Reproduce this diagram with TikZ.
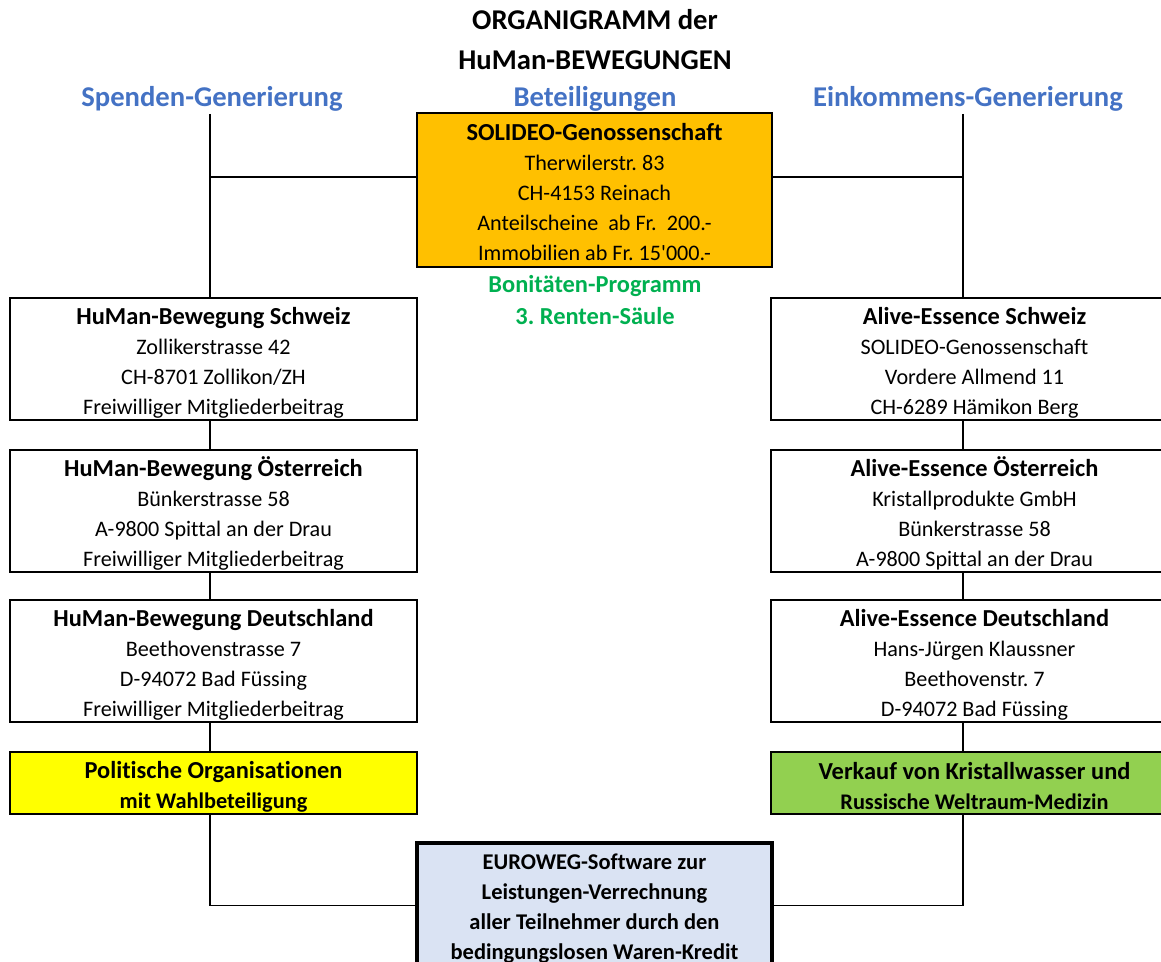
\documentclass[tikz,border=0pt]{standalone}
\usepackage{fontspec}
\setmainfont{Carlito}[Ligatures={TeXOff,NoCommon}]
\usepackage{xcolor}
\usepackage{tikz}
\frenchspacing
\definecolor{headblue}{HTML}{4472C4}
\definecolor{solorange}{HTML}{FFC000}
\definecolor{polyellow}{HTML}{FFFF00}
\definecolor{krisgreen}{HTML}{92D050}
\definecolor{eurolight}{HTML}{DAE3F3}
\definecolor{bonigreen}{HTML}{00B050}
\newcommand{\orgtitle}[2][14.3pt]{{\rule{0pt}{#1}\bfseries\fontsize{13.9}{17.1}\selectfont #2}}
\newcommand{\orgsub}[1]{{\bfseries\fontsize{12.7}{17.1}\selectfont #1}}

\begin{document}
\begin{tikzpicture}[x=0.02cm,y=-0.02cm,line width=1.1pt]
    \tikzstyle{org}=[rectangle,draw=black,line width=1.1pt,align=center,inner sep=0pt,
        minimum width=8.14cm,minimum height=2.44cm,font=\fontsize{12.6}{17.1}\selectfont]
    \tikzstyle{head}=[font=\bfseries\fontsize{16.3}{22.8}\selectfont,text=headblue]
    \tikzstyle{mid}=[org,minimum width=7.1cm]
    \clip (0,0) rectangle (1161,962);

    \node[font=\bfseries\fontsize{16.3}{22.8}\selectfont,align=center] (title) at (595,40) {ORGANIGRAMM der\\HuMan-BEWEGUNGEN};
    \node[head] (hleft) at (212,99) {Spenden-Generierung};
    \node[head] (hmid) at (595,99) {Beteiligungen};
    \node[head] (hright) at (968,99) {Einkommens-Generierung};

    % Beteiligungen
    \node[mid,fill=solorange,minimum height=3.08cm] (sol) at (594.5,190)
        {\orgtitle[12pt]{SOLIDEO-Genossenschaft}\\Therwilerstr. 83\\CH-4153 Reinach\\Anteilscheine~ ab Fr.~ 200.-\\Immobilien ab Fr. 15'000.-};
    \node[font=\bfseries\fontsize{13.9}{18.2}\selectfont,text=bonigreen,align=center] (boni) at (595,300)
        {Bonitäten-Programm\\3. Renten-Säule};

    % Spenden
    \node[org] (ch) at (213.5,359) {\orgtitle{HuMan-Bewegung Schweiz}\\Zollikerstrasse 42\\CH-8701 Zollikon/ZH\\Freiwilliger Mitgliederbeitrag};
    \node[org] (at) at (213.5,511) {\orgtitle{HuMan-Bewegung Österreich}\\Bünkerstrasse 58\\A-9800 Spittal an der Drau\\Freiwilliger Mitgliederbeitrag};
    \node[org] (de) at (213.5,661) {\orgtitle{HuMan-Bewegung Deutschland}\\Beethovenstrasse 7\\D-94072 Bad Füssing\\Freiwilliger Mitgliederbeitrag};
    \node[org,fill=polyellow,minimum height=1.24cm] (pol) at (213.5,783) {\orgtitle{Politische Organisationen}\\\orgsub{mit Wahlbeteiligung}};

    % Einkommen
    \node[org] (aech) at (974.5,359) {\orgtitle{Alive-Essence Schweiz}\\SOLIDEO-Genossenschaft\\Vordere Allmend 11\\CH-6289 Hämikon Berg};
    \node[org] (aeat) at (974.5,511) {\orgtitle{Alive-Essence Österreich}\\Kristallprodukte GmbH\\Bünkerstrasse 58\\A-9800 Spittal an der Drau};
    \node[org] (aede) at (974.5,661) {\orgtitle{Alive-Essence Deutschland}\\Hans-Jürgen Klaussner\\Beethovenstr. 7\\D-94072 Bad Füssing};
    \node[org,fill=krisgreen,minimum height=1.24cm] (kris) at (974.5,783) {\orgtitle[13.6pt]{Verkauf von Kristallwasser und}\\\orgsub{Russische Weltraum-Medizin}};

    \node[mid,fill=eurolight,line width=2.3pt,minimum height=2.5cm,font=\bfseries\fontsize{12.8}{17.1}\selectfont] (euro) at (594.5,905.5)
        {\rule{0pt}{12.6pt}EUROWEG-Software zur\\Leistungen-Verrechnung\\aller Teilnehmer durch den\\bedingungslosen Waren-Kredit};

    \coordinate (ltop) at (210,114);
    \coordinate (rtop) at (963,114);
    \coordinate (ljoin) at (210,177);
    \coordinate (rjoin) at (963,177);
    \draw (ltop) -- (ltop |- ch.north);
    \draw (rtop) -- (rtop |- aech.north);
    \draw (ljoin) -- (ljoin -| sol.west);
    \draw (rjoin) -- (rjoin -| sol.east);
    \foreach \a/\b in {ch/at,at/de,de/pol} {
        \draw (\a.south -| ltop) -- (\b.north -| ltop);
    };
    \foreach \a/\b in {aech/aeat,aeat/aede,aede/kris} {
        \draw (\a.south -| rtop) -- (\b.north -| rtop);
    };
    \draw (pol.south -| ltop) |- (euro.west);
    \draw (kris.south -| rtop) |- (euro.east);
\end{tikzpicture}
\end{document}
